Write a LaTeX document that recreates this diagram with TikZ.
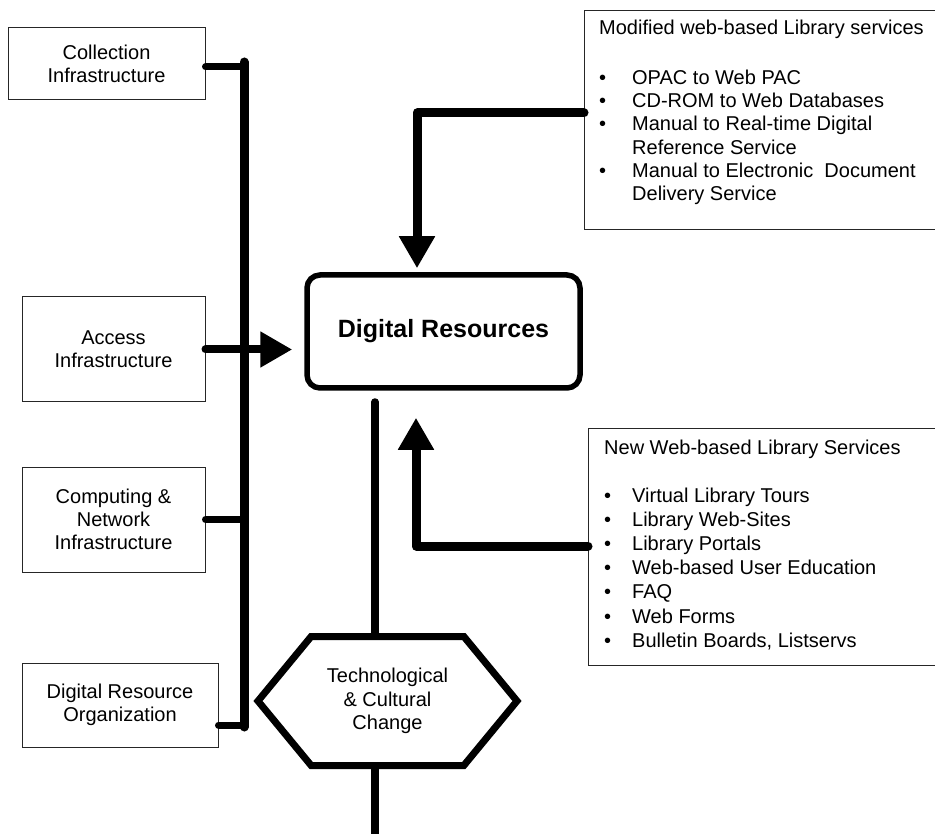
\documentclass[tikz,border=0pt]{standalone}
\usepackage{fontspec}
\setmainfont{Liberation Sans}
\usetikzlibrary{arrows.meta,shapes.symbols}
\newcommand{\blt}[1]{\makebox[#1][l]{\textbullet}}

\begin{document}
\begin{tikzpicture}[x=1pt, y=-1pt,
    txt/.style={font=\fontsize{20}{23.3}\selectfont},
    leftbox/.style={draw=black!85, line width=1pt, align=center, inner sep=0pt, txt},
    listbox/.style={draw=black!85, line width=1pt, anchor=north west, inner sep=0pt},
    listtxt/.style={align=left, anchor=north west, inner sep=0pt, txt},
    drbox/.style={draw, line width=5.5pt, rounded corners=13pt, minimum width=273pt, minimum height=113pt, font=\fontsize{25}{30}\selectfont\bfseries},
    hexbox/.style={draw, line width=7pt, signal, signal to=west and east, signal pointer angle=101, minimum width=259pt, minimum height=129pt, align=center, inner sep=0pt, txt},
    bar/.style={line width=9pt, line cap=round},
    conn/.style={line width=7pt, line cap=round},
    stem/.style={line width=7.5pt, line cap=round},
    bigarrow/.style={line width=9pt, line cap=round, line join=round, -{Triangle[length=32pt, width=34pt]}},
  ]
  \useasboundingbox (0,0) rectangle (935,834);

  % Boxes
  \node[leftbox, minimum width=197pt, minimum height=72pt] (coll) at (106.5,64) {Collection\\Infrastructure};
  \node[leftbox, minimum width=183pt, minimum height=105pt] (acc) at (113.5,349.5) {Access\\Infrastructure};
  \node[leftbox, minimum width=183pt, minimum height=105pt] (comp) at (113.5,519.5) {Computing \&\\Network\\Infrastructure};
  \node[leftbox, minimum width=196pt, minimum height=84pt] (dro) at (120,705) {Digital Resource\\Organization};

  \node[drbox] (dr) at (443.5,331.5) {Digital Resources};
  \node[hexbox] (tech) at (387.5,701) {Technological\\\& Cultural\\Change};

  \node[listbox, minimum width=356pt, minimum height=219pt] (mod) at (584,10) {};
  \node[listtxt] (modtxt) at (599,19.5) {Modified web-based Library services\\[26.7pt]
    \blt{33pt}OPAC to Web PAC\\
    \blt{33pt}CD-ROM to Web Databases\\
    \blt{33pt}Manual to Real-time Digital\\
    \hspace*{33pt}Reference Service\\
    \blt{33pt}Manual to Electronic\ \ Document\\
    \hspace*{33pt}Delivery Service};

  \node[listbox, minimum width=352pt, minimum height=237pt] (new) at (588,428) {};
  \node[listtxt, font=\fontsize{20}{24.2}\selectfont] (newtxt) at (604,439.5) {New Web-based Library Services\\[23.8pt]
    \blt{28pt}Virtual Library Tours\\
    \blt{28pt}Library Web-Sites\\
    \blt{28pt}Library Portals\\
    \blt{28pt}Web-based User Education\\
    \blt{28pt}FAQ\\
    \blt{28pt}Web Forms\\
    \blt{28pt}Bulletin Boards, Listservs};

  % Connectors
  \coordinate (bartop) at (244,62);
  \coordinate (barbot) at (244,727);
  \coordinate (collpin) at ([yshift=-3pt]coll.east);
  \coordinate (dropin) at ([yshift=-20pt]dro.east);
  \coordinate (modbend) at (417,113);
  \coordinate (newbend) at (416,546);
  \coordinate (drfoot) at (375,402);
  \coordinate (ground) at (375,840);

  \draw[bar] (bartop) -- (barbot);
  \draw[conn] (collpin) -- (collpin -| bartop);
  \draw[conn] (comp.east) -- (comp.east -| bartop);
  \draw[conn] (dropin) -- (dropin -| bartop);
  \draw[bigarrow, line width=8pt, shorten >=12pt] (acc.east) -- (acc.east -| dr.west);

  \draw[bigarrow, shorten >=4pt] (modbend -| mod.west) -- (modbend) -- (modbend |- dr.north);
  \draw[bigarrow, shorten >=27pt] (newbend -| new.west) -- (newbend) -- (newbend |- dr.south);

  \draw[stem] (drfoot) -- (drfoot |- tech.north);
  \draw[stem] (drfoot |- tech.south) -- (ground);
\end{tikzpicture}
\end{document}
